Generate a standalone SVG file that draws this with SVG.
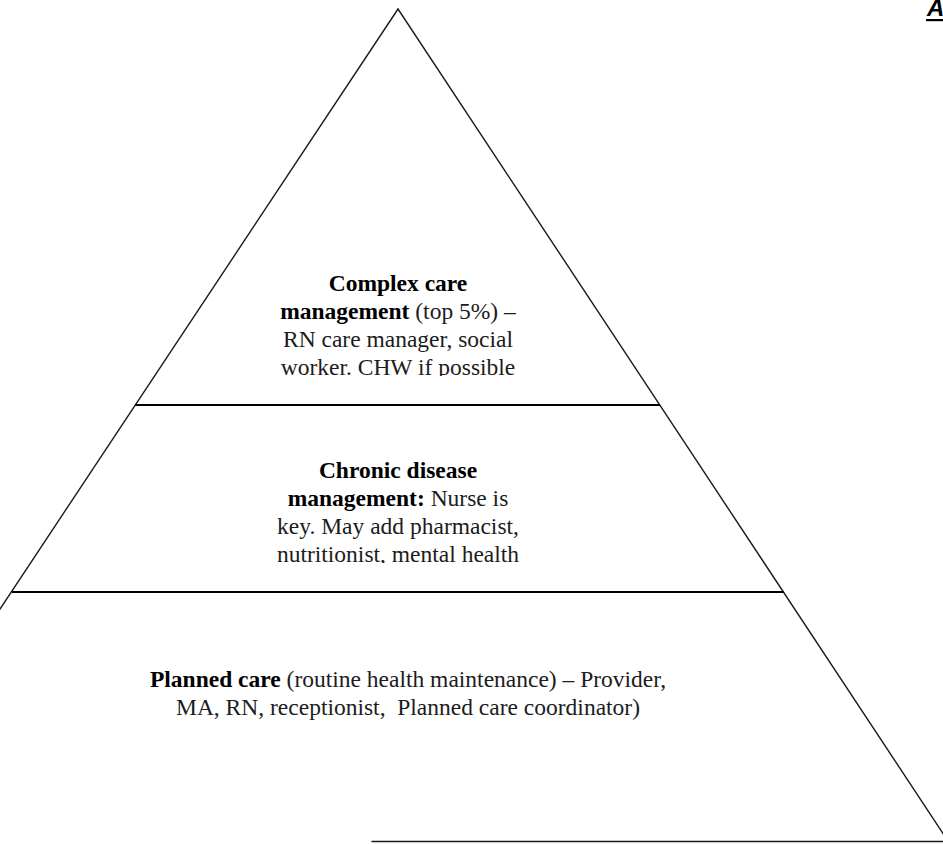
<svg xmlns="http://www.w3.org/2000/svg" width="943" height="844" viewBox="0 0 943 844">
  <style>
    .edge { stroke: #1a1a1a; stroke-width: 1.4; fill: none; stroke-linecap: round; }
    .tier { stroke: #000; stroke-width: 1.8; fill: none; }
    .t { font-family: "Liberation Serif", "Times New Roman", serif; font-size: 23.5px; fill: #1c1c1c; text-anchor: middle; }
    .b { font-weight: bold; fill: #000; }
    .hdr { font-family: "Liberation Sans", Arial, sans-serif; font-size: 24px; font-weight: bold; font-style: italic; fill: #000; }
  </style>
  <defs>
    <!-- last line of the two upper tiers is cut just under its baseline -->
    <clipPath id="clipTop"><rect x="0" y="0" width="943" height="376"/></clipPath>
    <clipPath id="clipMid"><rect x="0" y="0" width="943" height="563"/></clipPath>
  </defs>
  <rect width="943" height="844" fill="#fff"/>

  <!-- pyramid outline and tier dividers -->
  <g id="connectors">
    <path class="edge" d="M398,9 L0,609"/>
    <path class="edge" d="M398,9 L950,844"/>
    <path class="tier" d="M135,405 L660,405"/>
    <path class="tier" d="M12,592 L784,592"/>
    <path class="edge" d="M372,841.5 L943,841.5"/>
  </g>

  <!-- heading fragment at the right edge -->
  <g id="heading">
    <text class="hdr" x="927" y="16">A</text>
    <rect x="926" y="19" width="17" height="2.2" fill="#000"/>
  </g>

  <g id="tier-complex" clip-path="url(#clipTop)">
    <text class="t" x="398" y="291"><tspan class="b">Complex care</tspan></text>
    <text class="t" x="398" y="319"><tspan class="b">management</tspan> (top 5%) –</text>
    <text class="t" x="398" y="347">RN care manager, social</text>
    <text class="t" x="398" y="375">worker. CHW if possible</text>
  </g>

  <g id="tier-chronic" clip-path="url(#clipMid)">
    <text class="t" x="398" y="478"><tspan class="b">Chronic disease</tspan></text>
    <text class="t" x="398" y="506"><tspan class="b">management:</tspan> Nurse is</text>
    <text class="t" x="398" y="534">key. May add pharmacist,</text>
    <text class="t" x="398" y="562">nutritionist, mental health</text>
  </g>

  <g id="tier-planned">
    <text class="t" x="408" y="687"><tspan class="b">Planned care</tspan> (routine health maintenance) – Provider,</text>
    <text class="t" x="408" y="715" xml:space="preserve">MA, RN, receptionist,  Planned care coordinator)</text>
  </g>
</svg>
